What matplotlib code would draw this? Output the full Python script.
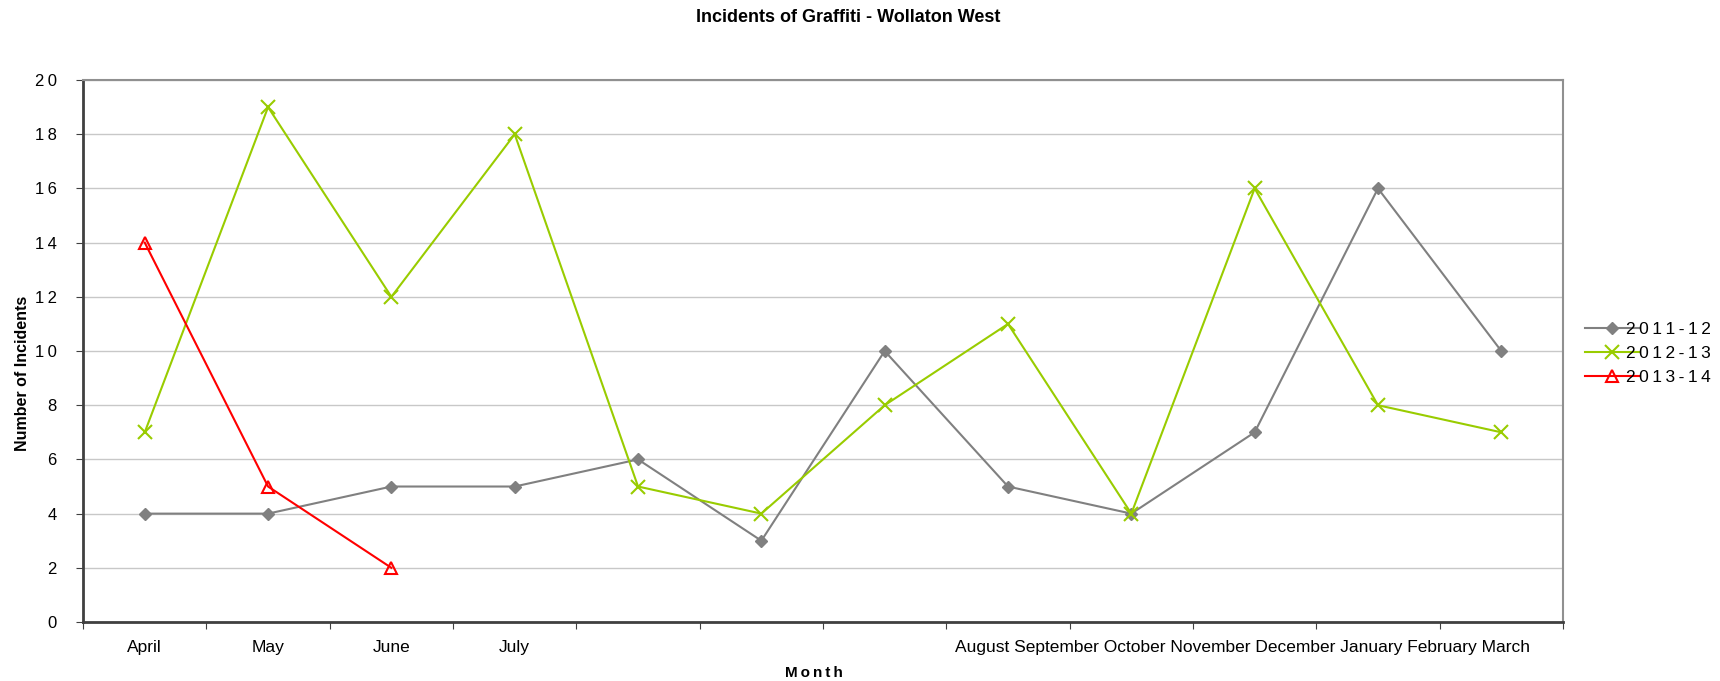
import matplotlib
matplotlib.use('Agg')
import matplotlib.pyplot as plt

months = ['April', 'May', 'June', 'July', 'August', 'September', 'October',
          'November', 'December', 'January', 'February', 'March']
series_2011 = [4, 4, 5, 5, 6, 3, 10, 5, 4, 7, 16, 10]
series_2012 = [7, 19, 12, 18, 5, 4, 8, 11, 4, 16, 8, 7]
series_2013 = [14, 5, 2]
y_ticks = [0, 2, 4, 6, 8, 10, 12, 14, 16, 18, 20]

plt.rcParams['font.family'] = ['Liberation Sans', 'DejaVu Sans']
thin = '\u2009'


def spaced(s):
    return thin.join(s)


fig = plt.figure(figsize=(17.2, 6.81), dpi=100)
ax = fig.add_axes([0.0483, 0.0866, 0.8604, 0.7959])

x = list(range(len(months)))
ax.plot(x, series_2011, color='#808080', marker='D', ms=6, lw=1.5,
        label=spaced('2011-12'))
ax.plot(x, series_2012, color='#99CC00', marker='x', ms=10, mew=1.5, lw=1.5,
        label=spaced('2012-13'))
ax.plot(x[:len(series_2013)], series_2013, color='#FF0000', marker='^', ms=8,
        mfc='none', mew=1.5, lw=1.5, label=spaced('2013-14'))

ax.set_xlim(-0.5, len(months) - 0.5)
ax.set_ylim(0, 20)
ax.set_yticks(y_ticks)
ax.set_yticklabels([spaced(str(v)) for v in y_ticks], fontsize=12)
ax.yaxis.grid(True, color='#c8c8c8', lw=1)
ax.set_axisbelow(True)

# tick marks on category boundaries; labels at centres, the crowded
# remainder squeezed into one label like the original export
ax.set_xticks([i - 0.5 for i in range(len(months) + 1)])
ax.set_xticklabels([])
ax.set_xticks(x[:4] + [8.9], minor=True)
ax.set_xticklabels(months[:4] + [' '.join(months[4:])], minor=True,
                   fontsize=12.5)
ax.tick_params(axis='x', which='minor', length=0, pad=13)
ax.tick_params(axis='x', which='major', length=5, color='#404040')
ax.tick_params(axis='y', length=5, color='#404040', pad=14)

for side in ['top', 'right']:
    ax.spines[side].set_color('#909090')
    ax.spines[side].set_linewidth(1.5)
for side in ['left', 'bottom']:
    ax.spines[side].set_color('#404040')
    ax.spines[side].set_linewidth(2)

fig.text(0.493, 0.975, 'Incidents of Graffiti - Wollaton West', ha='center',
         va='center', fontsize=13, fontweight='bold')
fig.text(0.473, 0.012, spaced('Month'), ha='center', va='center',
         fontsize=11, fontweight='bold')
fig.text(0.013, 0.452, 'Number of Incidents', ha='center', va='center',
         rotation=90, fontsize=11.5, fontweight='bold')

ax.legend(loc='center left', bbox_to_anchor=(1.004, 0.495), frameon=False,
          fontsize=12.5, handlelength=3.2, handletextpad=-0.8,
          labelspacing=0.5)

fig.savefig('out.png', dpi=100)
